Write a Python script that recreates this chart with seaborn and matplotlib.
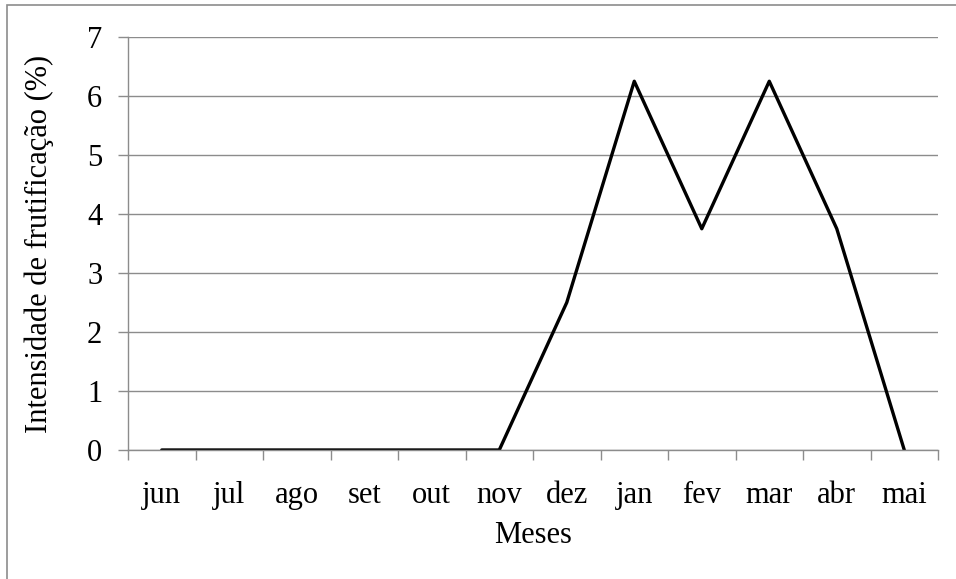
import matplotlib
matplotlib.use("Agg")
import matplotlib.pyplot as plt
from matplotlib.patches import Rectangle
import seaborn as sns
import pandas as pd

meses = ["jun", "jul", "ago", "set", "out", "nov", "dez", "jan", "fev", "mar", "abr", "mai"]
intensidade = [0, 0, 0, 0, 0, 0, 2.5, 6.25, 3.75, 6.25, 3.75, 0]
y_ticks = [0, 1, 2, 3, 4, 5, 6, 7]

sns.set_theme(style="white")
plt.rcParams["font.family"] = ["Liberation Serif", "DejaVu Serif"]

df = pd.DataFrame({"Meses": meses, "Intensidade": intensidade})

fig = plt.figure(figsize=(9.56, 5.79), dpi=100)
ax = fig.add_axes([0.1339, 0.2228, 0.9812 - 0.1339, 0.9361 - 0.2228])

sns.lineplot(data=df, x="Meses", y="Intensidade", sort=False, color="black",
             linewidth=2.4, ax=ax)

grid_c = "#8c8c8c"
fs = 22
ax.set_xlim(-0.5, len(meses) - 0.5)
ax.set_ylim(0, 7)
ax.set_yticks(y_ticks)
ax.yaxis.grid(True, color=grid_c, linewidth=1)
ax.set_axisbelow(True)

ax.set_xticks(range(len(meses)))
ax.set_xticklabels(meses)
ax.set_xticks([i - 0.5 for i in range(len(meses) + 1)], minor=True)
ax.tick_params(axis="x", which="major", length=0, pad=22, labelsize=fs, labelcolor="black")
ax.tick_params(axis="x", which="minor", length=7, width=1, color=grid_c, direction="out", bottom=True)
ax.tick_params(axis="y", which="major", length=7, width=1, color=grid_c, direction="out", left=True,
               pad=11.5, labelsize=fs, labelcolor="black")

for s in ["top", "right"]:
    ax.spines[s].set_visible(False)
for s in ["left", "bottom"]:
    ax.spines[s].set_color(grid_c)
    ax.spines[s].set_linewidth(1)

ax.set_xlabel("Meses", fontsize=fs, color="black", labelpad=8.5)
ax.set_ylabel("Intensidade de frutificação (%)", fontsize=fs, color="black", labelpad=24)

# outer chart frame
fig.patches.append(Rectangle((7 / 956, -0.1), 1.2, (579 - 5) / 579 + 0.1,
                             transform=fig.transFigure, fill=False,
                             edgecolor="#8c8c8c", linewidth=1.2))

fig.savefig("out.png", dpi=100)
